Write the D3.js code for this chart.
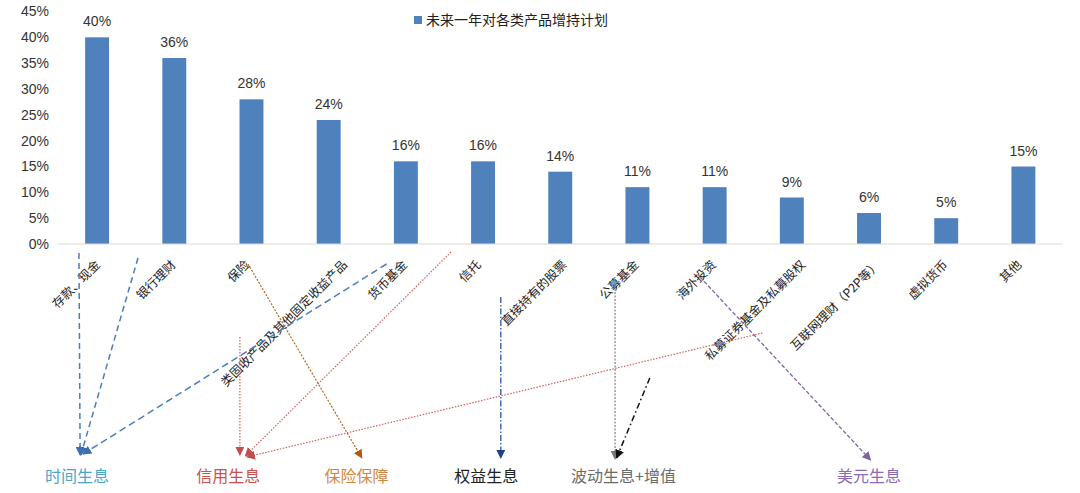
<!DOCTYPE html>
<html><head><meta charset="utf-8">
<script src="https://cdn.jsdelivr.net/npm/d3@7/dist/d3.min.js"></script>
<style>
html,body{margin:0;padding:0;background:#fff;}
svg{display:block;font-family:"Liberation Sans","Noto Sans CJK SC",Arial,sans-serif;}
</style></head>
<body><svg id="c" width="1080" height="493"></svg>
<script>
// ---- data ----
const categories = ["存款、现金","银行理财","保险","类固收产品及其他固定收益产品","货币基金","信托","直接持有的股票","公募基金","海外投资","私募证券基金及私募股权","互联网理财（P2P等）","虚拟货币","其他"];
const values = [40,36,28,24,16,16,14,11,11,9,6,5,15];
const seriesName = "未来一年对各类产品增持计划";
const yTicks = [0,5,10,15,20,25,30,35,40,45];

// annotation groups (label, colour) and links (from category-slot / to group)
const groupNames = ["时间生息","信用生息","保险保障","权益生息","波动生息+增值","美元生息"];
const groupColors = ["#4ba6cc","#c9524b","#d4853c","#222222","#6b6b6b","#8b6bb5"];
const groupSlots = [-0.26, 1.7, 3.36, 5.04, 6.82, 10.0];
// links: [fromSlot, fromY, toSlot, toY, stroke, dash, width, arrowColour]
const linkFrom = [
  [-0.235,253,-0.22,455,"#4a7ebb","6,4",1.5,"#3f6fb0"],
  [0.53,258,-0.21,455,"#4a7ebb","6,4",1.5,"#3f6fb0"],
  [3.75,264,-0.18,454,"#4a7ebb","7,4",1.5,"#3f6fb0"],
  [1.85,337,1.85,455,"#d0605a","1.5,1.5",1.2,"#c0504d"],
  [4.585,252,1.92,456,"#d0605a","1.5,1.5",1.2,"#c0504d"],
  [8.62,333,1.94,457,"#d0605a","1.5,1.5",1.2,"#c0504d"],
  [1.955,264,3.43,458,"#b8651e","2,1.5",1.2,"#b35a10"],
  [5.23,297,5.23,458,"#3a60a8","6,2,1.5,2",1.4,"#1f3f8f"],
  [6.71,285,6.71,459,"#8a8a8a","2,1.5",1.3,"#777777"],
  [7.16,378,6.73,458,"#111111","6,3,1.5,3",1.5,"#111111"],
  [7.81,277,10.02,460,"#8064a2","4,2",1.3,"#8064a2"]
];

// ---- chart ----
const svg = d3.select("#c");
const x = d3.scaleBand().domain(categories).range([58.5,1062]).paddingInner(0.69).paddingOuter(0.345);
const y = d3.scaleLinear().domain([0,45]).range([244,11.5]);
const step = x.step();
const c0 = x(categories[0]) + x.bandwidth()/2;
const slot = d3.scaleLinear().domain([0,1]).range([c0, c0+step]);

// bars
svg.append("g").selectAll("rect").data(values).join("rect")
  .attr("x",(d,i)=>x(categories[i])).attr("width",x.bandwidth())
  .attr("y",d=>y(d)).attr("height",d=>y(0)-y(d)).attr("fill","#4f81bd");

// axis line
svg.append("line").attr("x1",x.range()[0]).attr("x2",x.range()[1])
  .attr("y1",y(0)).attr("y2",y(0)).attr("stroke","#d9d9d9").attr("stroke-width",1.2);

// y axis labels
const ya = svg.append("g").attr("transform","translate(49,0)")
  .call(d3.axisLeft(y).tickValues(yTicks).tickFormat(d=>d+"%").tickSize(0).tickPadding(0));
ya.select(".domain").remove();
ya.selectAll("text").attr("font-size",14).attr("fill","#333").attr("font-family","Liberation Sans, Arial, sans-serif");

// value labels
svg.append("g").selectAll("text").data(values).join("text")
  .attr("x",(d,i)=>x(categories[i])+x.bandwidth()/2).attr("y",d=>y(d)-11)
  .attr("text-anchor","middle").attr("font-size",14).attr("fill","#333")
  .text(d=>d+"%");

// category labels (rotated, end near band centre; long labels drift right)
const cl = svg.append("g").selectAll("text").data(categories).join("text")
  .attr("text-anchor","end").attr("font-size",12.3).attr("fill","#222")
  .attr("font-family","Noto Sans CJK SC, sans-serif")
  .attr("dy","0.35em")
  .text(d=>d);
cl.each(function(d){
  const len = this.getComputedTextLength();
  const off = -12 + 0.14*len;
  const ax = x(d)+x.bandwidth()/2 + off + 4.2;
  d3.select(this).attr("transform",`translate(${ax},262.5) rotate(-45)`);
});

// legend
svg.append("rect").attr("x",414).attr("y",16).attr("width",8).attr("height",8).attr("fill","#4f81bd");
svg.append("text").attr("x",426).attr("y",20).attr("dy","0.35em").attr("font-size",14)
  .attr("fill","#222").attr("font-family","Noto Sans CJK SC, sans-serif").text(seriesName);

// arrow markers
const defs = svg.append("defs");
linkFrom.forEach((l,i)=>{
  defs.append("marker").attr("id","m"+i).attr("viewBox","0 0 10 10").attr("refX",9).attr("refY",5)
    .attr("markerWidth",9).attr("markerHeight",9).attr("markerUnits","userSpaceOnUse").attr("orient","auto")
    .append("path").attr("d","M0,0L10,5L0,10Z").attr("fill",l[7]);
});
svg.append("g").selectAll("line").data(linkFrom).join("line")
  .attr("x1",d=>slot(d[0])).attr("y1",d=>d[1]).attr("x2",d=>slot(d[2])).attr("y2",d=>d[3])
  .attr("stroke",d=>d[4]).attr("stroke-dasharray",d=>d[5]).attr("stroke-width",d=>d[6])
  .attr("marker-end",(d,i)=>`url(#m${i})`);

// group labels
svg.append("g").selectAll("text").data(groupNames).join("text")
  .attr("x",(d,i)=>slot(groupSlots[i])).attr("y",482).attr("text-anchor","middle")
  .attr("font-size",16).attr("fill",(d,i)=>groupColors[i])
  .attr("font-family","Noto Sans CJK SC, sans-serif").text(d=>d);
</script></body></html>
